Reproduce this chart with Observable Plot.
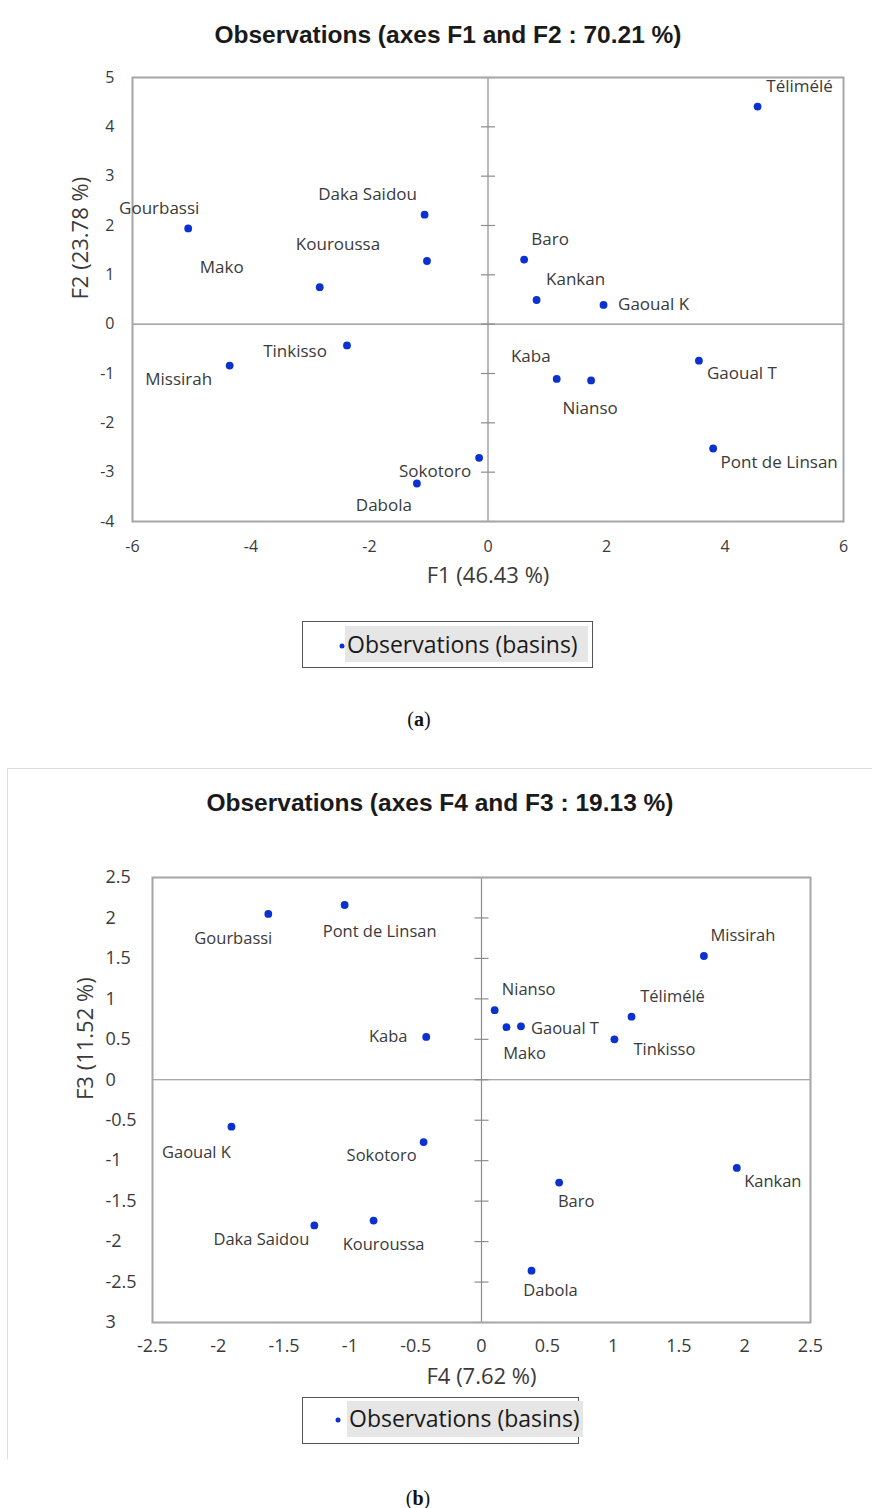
<!DOCTYPE html>
<html>
<head>
<meta charset="utf-8">
<script src="https://cdn.jsdelivr.net/npm/d3@7"></script>
<script src="https://cdn.jsdelivr.net/npm/@observablehq/plot@0.6"></script>
<style>
  body { margin: 0; background: #fff; }
  #page { position: relative; width: 872px; height: 1508px; overflow: hidden; font-family: "Open Sans", sans-serif; }
  .abs { position: absolute; white-space: nowrap; }
  .c { transform: translate(-50%, -50%); }
  .title { font-family: "Liberation Sans", Arial, sans-serif; font-weight: bold; font-size: 24.5px; color: #1a1a1a; }
  .cap { font-family: "Liberation Serif", serif; font-size: 20px; color: #111; }
  .lbox { border: 1px solid #555; box-sizing: border-box; }
  .hl { background: #e6e6e6; }
  .ldot { width: 5px; height: 5px; border-radius: 50%; background: #0b32d1; transform: translate(-50%, -50%); }
  .ltext { font-size: 23px; color: #1a1a1a; transform: translateY(-50%); }
</style>
</head>
<body>
<div id="page">
  <div class="abs c title" style="left:448px;top:35px">Observations (axes F1 and F2 : 70.21 %)</div>
  <div class="abs lbox" style="left:302px;top:621px;width:291px;height:47px"></div>
  <div class="abs hl" style="left:345px;top:626px;width:243px;height:36px"></div>
  <div class="abs ldot" style="left:342px;top:646px"></div>
  <div class="abs ltext" style="left:347px;top:644px">Observations (basins)</div>
  <div class="abs c cap" style="left:419px;top:719px">(<b>a</b>)</div>

  <div class="abs" style="left:7px;top:768px;width:880px;height:690px;border-top:1px solid #dcdcdc;border-left:1px solid #dcdcdc"></div>
  <div class="abs c title" style="left:440px;top:803px">Observations (axes F4 and F3 : 19.13 %)</div>
  <div class="abs lbox" style="left:302px;top:1397px;width:277px;height:47px"></div>
  <div class="abs hl" style="left:347px;top:1401px;width:236px;height:36px"></div>
  <div class="abs ldot" style="left:338px;top:1420px"></div>
  <div class="abs ltext" style="left:349px;top:1418px">Observations (basins)</div>
  <div class="abs c cap" style="left:418px;top:1498px">(<b>b</b>)</div>
</div>
<script>
// ---- Data ----
const basins = ["Gourbassi","Daka Saidou","Kouroussa","Mako","Tinkisso","Missirah","Sokotoro","Dabola",
                "Télimélé","Baro","Kankan","Gaoual K","Kaba","Nianso","Gaoual T","Pont de Linsan"];
// Panel (a): F1 (x) and F2 (y)
const F1 = [-5.06,-1.07,-1.03,-2.84,-2.38,-4.36,-0.15,-1.20, 4.55, 0.61, 0.82, 1.95, 1.16, 1.74, 3.56, 3.80];
const F2 = [ 1.94, 2.22, 1.28, 0.75,-0.43,-0.84,-2.71,-3.23, 4.41, 1.31, 0.49, 0.39,-1.11,-1.14,-0.74,-2.52];
// Panel (b): F4 (x) and F3 (y)
const F4 = [-1.62,-1.27,-0.82, 0.19, 1.01, 1.69,-0.44, 0.38, 1.14, 0.59, 1.94,-1.90,-0.42, 0.10, 0.30,-1.04];
const F3 = [ 2.05,-1.80,-1.74, 0.65, 0.50, 1.53,-0.77,-2.36, 0.78,-1.27,-1.09,-0.58, 0.53, 0.86, 0.66, 2.16];

const xTicksA = [-6,-4,-2,0,2,4,6];
const yTicksA = [5,4,3,2,1,0,-1,-2,-3,-4];
const xTicksB = [-2.5,-2,-1.5,-1,-0.5,0,0.5,1,1.5,2,2.5];
const yTicksB = [2.5,2,1.5,1,0.5,0,-0.5,-1,-1.5,-2,-2.5,-3];
const yTickLabelsB = ["2.5","2","1.5","1","0.5","0","-0.5","-1","-1.5","-2","-2.5","3"];

// label nudges (pixels, relative to each point) as placed in the original chart
const nudgeA = [[-29,-20],[-57,-20],[-89,-16],[-98,-20],[-52,6],[-51,14],[-44,14],[-33,22],
                [42,-20],[26,-20],[39,-20],[50,0],[-26,-22],[-1,28],[43,13],[66,14]];
const nudgeB = [[-35,25],[-53,14],[10,24],[18,27],[50,10],[39,-20],[-42,14],[19,20],
                [41,-20],[17,19],[36,14],[-35,26],[-38,0],[34,-20],[44,2],[35,27]];

const hline = { draw(ctx, size) { const r = Math.sqrt(size / Math.PI); ctx.moveTo(-r, 0); ctx.lineTo(r, 0); } };

function panel(cfg) {
  const idx = d3.range(basins.length);
  const labelMarks = idx.map(i => Plot.text([i], {
    x: j => cfg.xs[j], y: j => cfg.ys[j], text: j => basins[j],
    dx: cfg.nudge[i][0], dy: cfg.nudge[i][1],
    fontSize: cfg.labelSize, fill: "#3a3a3a"
  }));
  const svg = Plot.plot({
    width: 872,
    height: cfg.height,
    marginTop: cfg.mt, marginBottom: cfg.mb, marginLeft: cfg.ml, marginRight: cfg.mr,
    style: { fontFamily: "'Open Sans', sans-serif", color: "#3a3a3a", background: "transparent", overflow: "visible" },
    x: { domain: cfg.xDomain, label: null },
    y: { domain: cfg.yDomain, label: null },
    marks: [
      Plot.ruleX([0], { stroke: "#8c8c8c", strokeWidth: 1.2 }),
      Plot.ruleY([0], { stroke: "#8c8c8c", strokeWidth: 1.2 }),
      Plot.dot(cfg.yTicks, { x: () => 0, y: d => d, symbol: hline, r: 7, stroke: "#8c8c8c", fill: "none", strokeWidth: 1.2 }),
      Plot.frame({ stroke: "#a6a6a6", strokeWidth: 2 }),
      Plot.axisX({ ticks: cfg.xTicks, tickSize: 0, tickPadding: cfg.xPad, fontSize: cfg.tickSize,
                   tickFormat: d => String(d), label: null }),
      Plot.axisY({ ticks: cfg.yTicks, tickSize: 0, tickPadding: cfg.yPad, fontSize: cfg.tickSize,
                   textAnchor: cfg.yAnchor, tickFormat: cfg.yFormat, label: null }),
      Plot.text([cfg.xLabel], { frameAnchor: "bottom", dy: cfg.xLabelDy, text: d => d, fontSize: 22, fill: "#3a3a3a" }),
      Plot.text([cfg.yLabel], { frameAnchor: "left", dx: cfg.yLabelDx, rotate: -90, text: d => d, fontSize: 22, fill: "#3a3a3a" }),
      Plot.dot(idx, { x: i => cfg.xs[i], y: i => cfg.ys[i], r: 3.9, fill: "#0b32d1" }),
      ...labelMarks
    ]
  });
  svg.style.position = "absolute";
  svg.style.left = "0px";
  svg.style.top = cfg.top + "px";
  document.getElementById("page").appendChild(svg);
}

panel({
  xs: F1, ys: F2, nudge: nudgeA, labelSize: 17,
  top: 50, height: 560, mt: 27, mb: 89, ml: 132, mr: 29,
  xDomain: [-6, 6], yDomain: [-4, 5],
  xTicks: xTicksA, yTicks: yTicksA, tickSize: 16, xPad: 19, yPad: 18, yAnchor: "end",
  yFormat: d => String(d),
  xLabel: "F1 (46.43 %)", yLabel: "F2 (23.78 %)", xLabelDy: 61, yLabelDx: -52
});

panel({
  xs: F4, ys: F3, nudge: nudgeB, labelSize: 16.5,
  top: 820, height: 580, mt: 57, mb: 78, ml: 152, mr: 62,
  xDomain: [-2.5, 2.5], yDomain: [-3, 2.5],
  xTicks: xTicksB, yTicks: yTicksB, tickSize: 18, xPad: 17, yPad: 47, yAnchor: "start",
  yFormat: d => yTickLabelsB[yTicksB.indexOf(d)],
  xLabel: "F4 (7.62 %)", yLabel: "F3 (11.52 %)", xLabelDy: 61, yLabelDx: -67
});
</script>
</body>
</html>
